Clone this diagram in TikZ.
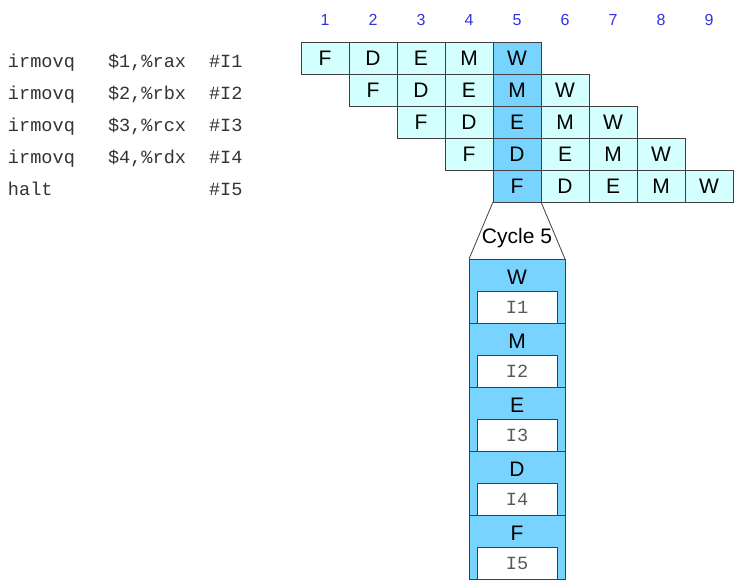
\documentclass[tikz,border=0pt]{standalone}
\usepackage{fontspec}
\setsansfont{Liberation Sans}
\setmonofont{Liberation Mono}
\usepackage{tikz}
\usetikzlibrary{
chains,
positioning,
}
\definecolor{stagelight}{HTML}{D4FFFF}
\definecolor{stagenow}{HTML}{78D4FF}
\definecolor{cycleblue}{HTML}{3333DD}
\tikzset{
node distance=0pt,
outer sep=0pt,
stage/.style={rectangle, draw=black!75, line width=0.8pt, fill=stagelight,
  minimum width=48pt, minimum height=32pt, inner sep=0pt,
  font=\sffamily\fontsize{21}{21}\selectfont},
now/.style={fill=stagenow},
cyclenum/.style={text=cycleblue, font=\sffamily\fontsize{16}{16}\selectfont},
asm/.style={anchor=base west, inner sep=0pt, text=black!80,
  font=\ttfamily\fontsize{18.6}{18.6}\selectfont},
slot/.style={rectangle, draw=black!75, line width=0.8pt, fill=stagenow,
  minimum width=96pt, minimum height=64pt, inner sep=0pt},
slotname/.style={font=\sffamily\fontsize{21}{21}\selectfont},
slotinstr/.style={rectangle, draw=black!75, line width=0.8pt, fill=white,
  minimum width=80pt, minimum height=32pt, inner sep=0pt, text=black!65,
  font=\ttfamily\fontsize{18.6}{18.6}\selectfont},
}

\begin{document}
\begin{tikzpicture}[x=1pt, y=-1pt]
    \useasboundingbox (0,0) rectangle (748,587);

    % clock cycles
    \foreach \c in {1,...,9}
        \node [cyclenum] (n\c) at ({277+48*\c},20) {\c};

    % program
    \node [asm] (op1) at (8,67) {irmovq};
    \node [asm] (arg1) at (108,67) {\$1,\%rax};
    \node [asm] (tag1) at (209,67) {\#I1};
    \node [asm] (op2) at (8,99) {irmovq};
    \node [asm] (arg2) at (108,99) {\$2,\%rbx};
    \node [asm] (tag2) at (209,99) {\#I2};
    \node [asm] (op3) at (8,131) {irmovq};
    \node [asm] (arg3) at (108,131) {\$3,\%rcx};
    \node [asm] (tag3) at (209,131) {\#I3};
    \node [asm] (op4) at (8,163) {irmovq};
    \node [asm] (arg4) at (108,163) {\$4,\%rdx};
    \node [asm] (tag4) at (209,163) {\#I4};
    \node [asm] (op5) at (8,195) {halt};
    \node [asm] (tag5) at (209,195) {\#I5};

    % pipeline diagram
    \begin{scope}[start chain=r1 going right]
    \node [on chain, stage] (i1f) at (325,58) {F};
    \node [on chain, stage] (i1d) {D};
    \node [on chain, stage] (i1e) {E};
    \node [on chain, stage] (i1m) {M};
    \node [on chain, stage, now] (i1w) {W};
    \end{scope}
    \begin{scope}[start chain=r2 going right]
    \node [on chain, stage] (i2f) at (373,90) {F};
    \node [on chain, stage] (i2d) {D};
    \node [on chain, stage] (i2e) {E};
    \node [on chain, stage, now] (i2m) {M};
    \node [on chain, stage] (i2w) {W};
    \end{scope}
    \begin{scope}[start chain=r3 going right]
    \node [on chain, stage] (i3f) at (421,122) {F};
    \node [on chain, stage] (i3d) {D};
    \node [on chain, stage, now] (i3e) {E};
    \node [on chain, stage] (i3m) {M};
    \node [on chain, stage] (i3w) {W};
    \end{scope}
    \begin{scope}[start chain=r4 going right]
    \node [on chain, stage] (i4f) at (469,154) {F};
    \node [on chain, stage, now] (i4d) {D};
    \node [on chain, stage] (i4e) {E};
    \node [on chain, stage] (i4m) {M};
    \node [on chain, stage] (i4w) {W};
    \end{scope}
    \begin{scope}[start chain=r5 going right]
    \node [on chain, stage, now] (i5f) at (517,186) {F};
    \node [on chain, stage] (i5d) {D};
    \node [on chain, stage] (i5e) {E};
    \node [on chain, stage] (i5m) {M};
    \node [on chain, stage] (i5w) {W};
    \end{scope}

    % snapshot of cycle 5
    \node [slot] (sw) at (517,291) {};
    \node [slot, below=of sw] (sm) {};
    \node [slot, below=of sm] (se) {};
    \node [slot, below=of se] (sd) {};
    \node [slot, below=of sd] (sf) {};

    \node [slotname] (lw) at ([yshift=-18pt]sw.north) {W};
    \node [slotname] (lm) at ([yshift=-18pt]sm.north) {M};
    \node [slotname] (le) at ([yshift=-18pt]se.north) {E};
    \node [slotname] (ld) at ([yshift=-18pt]sd.north) {D};
    \node [slotname] (lf) at ([yshift=-18pt]sf.north) {F};

    \node [slotinstr, above=of sw.south] (bw) {I1};
    \node [slotinstr, above=of sm.south] (bm) {I2};
    \node [slotinstr, above=of se.south] (be) {I3};
    \node [slotinstr, above=of sd.south] (bd) {I4};
    \node [slotinstr, above=of sf.south] (bf) {I5};

    \draw [black!75, line width=0.8pt] (i5f.south west) -- (sw.north west);
    \draw [black!75, line width=0.8pt] (i5f.south east) -- (sw.north east);
    \node [slotname] (cyc) at (517,238) {Cycle 5};
\end{tikzpicture}
\end{document}
